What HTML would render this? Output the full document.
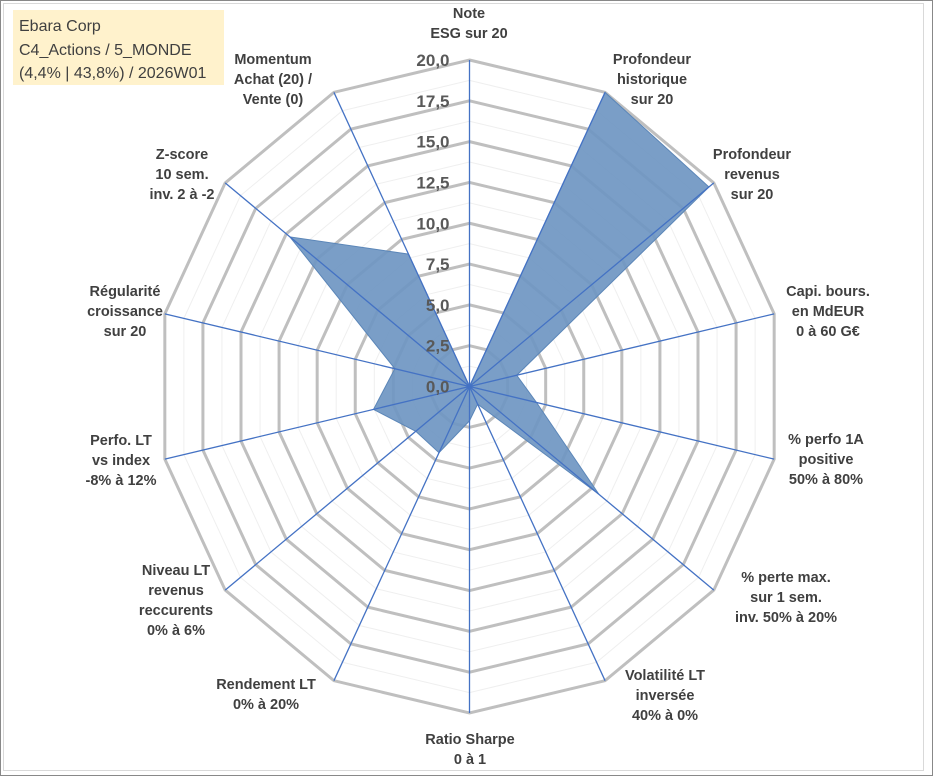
<!DOCTYPE html>
<html><head><meta charset="utf-8"><style>
body{margin:0;background:#fff;}
#wrap{position:relative;width:933px;height:776px;overflow:hidden;font-family:"Liberation Sans",Arial,sans-serif;}
.lbl{font-weight:bold;font-size:14.5px;fill:#404040;text-anchor:middle;}
.tick{font-weight:bold;font-size:17px;fill:#595959;text-anchor:end;}
</style></head><body>
<div id="wrap">
<svg id="svg" width="933" height="776" xmlns="http://www.w3.org/2000/svg">
<rect x="0.5" y="0.5" width="932" height="775" fill="#fff" stroke="#888"/>
<rect x="3.5" y="3.5" width="920" height="767" fill="none" stroke="#d9d9d9"/>
<g id="grid"></g><g id="series"></g><g id="spokes"></g><g id="ticks"></g><g id="labels"></g>
<rect x="13" y="10" width="211" height="75" fill="#fff2cc"/>
<text x="19" y="31" font-size="16" fill="#404040" font-family="Liberation Sans, sans-serif">Ebara Corp</text>
<text x="19" y="55" font-size="16" fill="#404040" font-family="Liberation Sans, sans-serif">C4_Actions / 5_MONDE</text>
<text x="19" y="78" font-size="16" fill="#404040" font-family="Liberation Sans, sans-serif">(4,4% | 43,8%) / 2026W01</text>
</svg>
</div>
<script>
const categories=[["Note","ESG sur 20"],["Profondeur","historique","sur 20"],["Profondeur","revenus","sur 20"],["Capi. bours.","en MdEUR","0 à 60 G€"],["% perfo 1A","positive","50% à 80%"],["% perte max.","sur 1 sem.","inv. 50% à 20%"],["Volatilité LT","inversée","40% à 0%"],["Ratio Sharpe","0 à 1"],["Rendement LT","0% à 20%"],["Niveau LT","revenus","reccurents","0% à 6%"],["Perfo. LT","vs index","-8% à 12%"],["Régularité","croissance","sur 20"],["Z-score","10 sem.","inv. 2 à -2"],["Momentum","Achat (20) /","Vente (0)"]];
const values=[0,20,19.6,3.1,4.4,10.6,1.2,2.1,4.5,4.4,6.3,4.9,14.7,9.0];
const tickLabels=["0,0","2,5","5,0","7,5","10,0","12,5","15,0","17,5","20,0"];
const labelPos=[[469,18],[652,64],[752,159],[828,296],[826,444],[786,582],[665,680],[470,744],[266,689],[176,575],[121,445],[125,296],[182,159],[273,64]];
const maxV=20,cx=469.5,cy=386.5,rx=312.5,ry=326.5;
const N=categories.length;
const ns="http://www.w3.org/2000/svg";
function pt(i,v){const a=2*Math.PI*i/N;return [cx+Math.sin(a)*rx*v/maxV, cy-Math.cos(a)*ry*v/maxV];}
function mk(tag,attrs,parent){const e=document.createElementNS(ns,tag);for(const k in attrs)e.setAttribute(k,attrs[k]);parent.appendChild(e);return e;}
const grid=document.getElementById('grid');
for(let k=1;k<=16;k++){const v=k*1.25;const p=[];for(let i=0;i<N;i++)p.push(pt(i,v).join(','));
 const major=k%2===0;
 const e=mk('polygon',{points:p.join(' '),fill:'none',stroke:major?'#bfbfbf':'#efefef','stroke-width':major?3:1},grid);
 
 }
const sp=[];for(let i=0;i<N;i++)sp.push(pt(i,values[i]).join(','));
const poly=mk('polygon',{points:sp.join(' '),fill:'#6f96c2','fill-opacity':0.92,stroke:'#5b86b8','stroke-width':1},document.getElementById('series'));


const spk=document.getElementById('spokes');
for(let i=0;i<N;i++){const e=pt(i,maxV);
 const l=mk('line',{x1:cx,y1:cy,x2:e[0],y2:e[1],stroke:'#4472c4','stroke-width':1.3},spk);
 
 }
const tk=document.getElementById('ticks');
tickLabels.forEach((t,k)=>{const p=pt(0,k*2.5);
 const e=mk('text',{x:cx-20,y:p[1]+6,class:'tick'},tk);e.textContent=t;
 
 });
const lb=document.getElementById('labels');
categories.forEach((c,i)=>{const [x,y]=labelPos[i];
 const t=mk('text',{x:x,y:y,class:'lbl'},lb);
 
 
 c.forEach((line,j)=>{const ts=mk('tspan',{x:x,dy:j===0?0:20},t);ts.textContent=line;});});
</script>
</body></html>
